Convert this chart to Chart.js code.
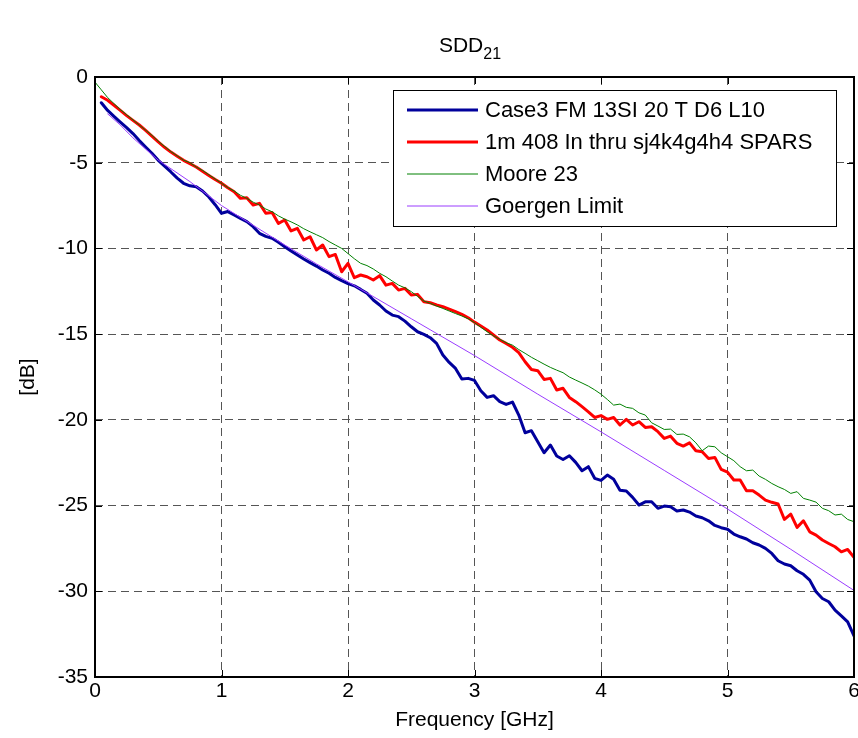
<!DOCTYPE html>
<html>
<head>
<meta charset="utf-8">
<script src="https://cdn.jsdelivr.net/npm/chart.js@4.4.0/dist/chart.umd.min.js"></script>
<style>
  body { margin: 0; background: #fff; }
  canvas { display: block; }
</style>
</head>
<body>
<canvas id="sddChart" width="858" height="738"></canvas>
<script>
// frequency grid [GHz] shared by the three measured traces
var freq = [
  0.00, 0.05, 0.10, 0.15, 0.20, 0.25, 0.30, 0.35, 0.40, 0.45,
  0.50, 0.55, 0.60, 0.65, 0.70, 0.75, 0.80, 0.85, 0.90, 0.95,
  1.00, 1.05, 1.10, 1.15, 1.20, 1.25, 1.30, 1.35, 1.40, 1.45,
  1.50, 1.55, 1.60, 1.65, 1.70, 1.75, 1.80, 1.85, 1.90, 1.95,
  2.00, 2.05, 2.10, 2.15, 2.20, 2.25, 2.30, 2.35, 2.40, 2.45,
  2.50, 2.55, 2.60, 2.65, 2.70, 2.75, 2.80, 2.85, 2.90, 2.95,
  3.00, 3.05, 3.10, 3.15, 3.20, 3.25, 3.30, 3.35, 3.40, 3.45,
  3.50, 3.55, 3.60, 3.65, 3.70, 3.75, 3.80, 3.85, 3.90, 3.95,
  4.00, 4.05, 4.10, 4.15, 4.20, 4.25, 4.30, 4.35, 4.40, 4.45,
  4.50, 4.55, 4.60, 4.65, 4.70, 4.75, 4.80, 4.85, 4.90, 4.95,
  5.00, 5.05, 5.10, 5.15, 5.20, 5.25, 5.30, 5.35, 5.40, 5.45,
  5.50, 5.55, 5.60, 5.65, 5.70, 5.75, 5.80, 5.85, 5.90, 5.95,
  6.00
];

// Case3 FM 13SI 20 T D6 L10 (blue)
var case3 = [
  null, -1.5, -1.95, -2.3, -2.63, -2.95, -3.3, -3.7, -4.08, -4.45,
  -4.86, -5.2, -5.54, -5.9, -6.2, -6.35, -6.4, -6.65, -7.0, -7.45,
  -7.95, -7.85, -8.05, -8.25, -8.44, -8.73, -9.12, -9.3, -9.41, -9.64,
  -9.9, -10.15, -10.39, -10.62, -10.83, -11.03, -11.26, -11.45, -11.69, -11.88,
  -12.05, -12.18, -12.39, -12.62, -13.01, -13.3, -13.65, -13.89, -13.98, -14.24,
  -14.57, -14.86, -15.01, -15.21, -15.54, -16.22, -16.65, -17.0, -17.62, -17.58,
  -17.7, -18.3, -18.69, -18.59, -18.94, -19.1, -18.96, -19.72, -20.75, -20.63,
  -21.28, -21.92, -21.47, -22.11, -22.31, -22.09, -22.48, -22.97, -22.73, -23.41,
  -23.53, -23.22, -23.47, -24.1, -24.15, -24.52, -24.97, -24.78, -24.78, -25.16,
  -25.03, -25.07, -25.32, -25.26, -25.38, -25.61, -25.71, -25.89, -26.16, -26.29,
  -26.38, -26.66, -26.82, -26.95, -27.17, -27.3, -27.5, -27.79, -28.22, -28.41,
  -28.51, -28.8, -29.01, -29.35, -30.03, -30.42, -30.61, -31.1, -31.43, -31.78,
  -32.6
];

// 1m 408 In thru sj4k4g4h4 SPARS (red)
var spars = [
  null, -1.15, -1.36, -1.65, -1.95, -2.25, -2.53, -2.8, -3.11, -3.45,
  -3.79, -4.1, -4.38, -4.62, -4.86, -5.05, -5.25, -5.5, -5.74, -5.98,
  -6.2, -6.46, -6.69, -7.08, -7.04, -7.47, -7.37, -7.95, -7.9, -8.54,
  -8.34, -8.98, -8.83, -9.51, -9.32, -10.09, -9.8, -10.48, -10.35, -11.36,
  -10.87, -11.71, -11.55, -11.65, -11.84, -11.59, -12.14, -12.04, -12.43, -12.33,
  -12.72, -12.68, -13.11, -13.17, -13.3, -13.4, -13.54, -13.69, -13.85, -14.05,
  -14.3, -14.53, -14.76, -15.05, -15.34, -15.54, -15.77, -16.08, -16.61, -17.06,
  -17.13, -17.64, -17.58, -18.26, -18.16, -18.69, -18.94, -19.23, -19.53, -19.86,
  -19.75, -19.97, -19.86, -20.3, -19.97, -20.3, -20.11, -20.44, -20.4, -20.69,
  -21.08, -20.95, -21.37, -21.53, -21.34, -21.8, -21.86, -22.25, -22.19, -22.89,
  -23.05, -23.51, -23.51, -24.14, -24.14, -24.39, -24.68, -24.81, -24.91, -25.81,
  -25.5, -26.27, -25.89, -26.53, -26.72, -27.01, -27.21, -27.4, -27.7, -27.56,
  -28.02
];

// Moore 23 (green)
var moore = [
  -0.3, -0.75, -1.2, -1.55, -1.9, -2.2, -2.5, -2.8, -3.1, -3.4,
  -3.75, -4.05, -4.35, -4.6, -4.85, -5.0, -5.25, -5.45, -5.7, -5.95,
  -6.2, -6.45, -6.65, -6.9, -7.08, -7.3, -7.47, -7.7, -7.86, -8.1,
  -8.29, -8.45, -8.63, -8.85, -9.03, -9.2, -9.37, -9.6, -9.8, -10.0,
  -10.3, -10.6, -10.87, -11.0, -11.2, -11.45, -11.65, -11.9, -12.14, -12.3,
  -12.52, -12.8, -13.07, -13.2, -13.36, -13.5, -13.65, -13.8, -13.94, -14.1,
  -14.33, -14.6, -14.86, -15.1, -15.3, -15.5, -15.64, -15.9, -16.12, -16.35,
  -16.55, -16.75, -16.94, -17.1, -17.25, -17.5, -17.68, -17.85, -18.03, -18.25,
  -18.5, -18.81, -19.14, -19.08, -19.27, -19.33, -19.59, -19.72, -20.17, -20.36,
  -20.56, -20.54, -20.85, -20.83, -20.99, -21.34, -21.8, -21.53, -21.57, -21.92,
  -22.15, -22.38, -22.73, -22.97, -22.93, -23.28, -23.47, -23.71, -23.9, -24.06,
  -24.29, -24.19, -24.58, -24.68, -24.8, -25.16, -25.3, -25.55, -25.5, -25.81,
  -25.94
];

// Goergen Limit (purple), sampled coarser since it is smooth
var goergenFreq = [0.1, 0.2, 0.3, 0.4, 0.5, 0.75, 1.0, 1.25, 1.5, 1.75, 2.0, 2.5, 3.0, 3.5, 4.0, 4.5, 5.0, 5.5, 6.0];
var goergen = [-2.15, -2.8, -3.55, -4.2, -4.85, -6.1, -7.5, -8.65, -9.8, -10.9, -11.95, -14.1, -16.25, -18.5, -20.7, -22.95, -25.2, -27.55, -29.95];

var seriesNames = ['Case3 FM 13SI 20 T D6 L10', '1m 408 In thru sj4k4g4h4 SPARS', 'Moore 23', 'Goergen Limit'];
var seriesColors = ['#00009c', '#ff0000', '#008000', '#9a3cff'];
var seriesWidths = [3, 3, 1, 1];

var FONT = '"Liberation Sans", Arial, Helvetica, sans-serif';

function toPoints(xs, ys) {
    return xs.map(function (x, i) { return { x: x, y: ys[i] }; });
}

// MATLAB-ish title with subscript
var titlePlugin = {
    id: 'sddTitle',
    afterDraw: function (chart) {
        var ctx = chart.ctx;
        ctx.save();
        ctx.fillStyle = '#000';
        ctx.textBaseline = 'alphabetic';
        ctx.font = '21px ' + FONT;
        var w1 = ctx.measureText('SDD').width;
        ctx.font = '16px ' + FONT;
        var w2 = ctx.measureText('21').width;
        var x = 470 - (w1 + w2) / 2;
        ctx.font = '21px ' + FONT;
        ctx.fillText('SDD', x, 52);
        ctx.font = '16px ' + FONT;
        ctx.fillText('21', x + w1, 59);
        ctx.restore();
    }
};

// box around the axes with inward ticks, then the legend box
var frameLegendPlugin = {
    id: 'frameLegend',
    afterDatasetsDraw: function (chart) {
        var ctx = chart.ctx;
        var a = chart.chartArea;
        var xs = chart.scales.x, ys = chart.scales.y;
        ctx.save();
        ctx.strokeStyle = '#000';
        ctx.lineWidth = 2;
        ctx.setLineDash([]);
        ctx.strokeRect(a.left, a.top, a.right - a.left, a.bottom - a.top);
        ctx.lineWidth = 1;
        ctx.beginPath();
        xs.ticks.forEach(function (t) {
            var px = Math.round(xs.getPixelForValue(t.value)) + 0.5;
            ctx.moveTo(px, a.top); ctx.lineTo(px, a.top + 7);
            ctx.moveTo(px, a.bottom); ctx.lineTo(px, a.bottom - 7);
        });
        ys.ticks.forEach(function (t) {
            var py = Math.round(ys.getPixelForValue(t.value)) + 0.5;
            ctx.moveTo(a.left, py); ctx.lineTo(a.left + 7, py);
            ctx.moveTo(a.right, py); ctx.lineTo(a.right - 7, py);
        });
        ctx.stroke();

        // legend
        var bx = 393.5, by = 90.5, bw = 443, bh = 136;
        ctx.fillStyle = '#fff';
        ctx.fillRect(bx, by, bw, bh);
        ctx.strokeStyle = '#000';
        ctx.lineWidth = 1;
        ctx.strokeRect(bx, by, bw, bh);
        ctx.font = '22px ' + FONT;
        ctx.textBaseline = 'middle';
        ctx.textAlign = 'left';
        chart.data.datasets.forEach(function (ds, i) {
            var rowY = 110 + i * 32;
            ctx.strokeStyle = ds.borderColor;
            ctx.lineWidth = ds.borderWidth;
            ctx.beginPath();
            ctx.moveTo(407, rowY);
            ctx.lineTo(478, rowY);
            ctx.stroke();
            ctx.fillStyle = '#000';
            ctx.fillText(ds.label, 485, rowY + 1);
        });
        ctx.restore();
    }
};

var ctx = document.getElementById('sddChart').getContext('2d');
var chart = new Chart(ctx, {
    type: 'line',
    data: {
        datasets: [
            { label: seriesNames[0], data: toPoints(freq, case3), borderColor: seriesColors[0], borderWidth: seriesWidths[0], order: 4 },
            { label: seriesNames[1], data: toPoints(freq, spars), borderColor: seriesColors[1], borderWidth: seriesWidths[1], order: 3 },
            { label: seriesNames[2], data: toPoints(freq, moore), borderColor: seriesColors[2], borderWidth: seriesWidths[2], order: 2 },
            { label: seriesNames[3], data: toPoints(goergenFreq, goergen), borderColor: seriesColors[3], borderWidth: seriesWidths[3], order: 1 }
        ]
    },
    options: {
        responsive: false,
        animation: false,
        layout: { padding: { top: 77, right: 4, bottom: 0, left: 0 } },
        elements: {
            point: { radius: 0 },
            line: { tension: 0, fill: false, borderJoinStyle: 'round', borderCapStyle: 'round' }
        },
        plugins: {
            legend: { display: false },
            tooltip: { enabled: false },
            title: { display: false }
        },
        scales: {
            x: {
                type: 'linear',
                min: 0,
                max: 6,
                afterFit: function (scale) {
                    scale.height = 61;
                    scale.paddingLeft = 0;
                    scale.paddingRight = 0;
                },
                ticks: { stepSize: 1, color: '#000', padding: 2, maxRotation: 0, font: { family: FONT, size: 21 } },
                grid: { color: '#555', lineWidth: 1, drawTicks: false },
                border: { display: false, dash: [8, 5] },
                title: { display: true, text: 'Frequency [GHz]', color: '#000', padding: { bottom: 5, top: 0 }, font: { family: FONT, size: 21 } }
            },
            y: {
                min: -35,
                max: 0,
                afterFit: function (scale) {
                    scale.width = 95;
                    scale.paddingTop = 0;
                    scale.paddingBottom = 0;
                },
                ticks: { stepSize: 5, color: '#000', padding: 7, font: { family: FONT, size: 21 } },
                grid: { color: '#555', lineWidth: 1, drawTicks: false },
                border: { display: false, dash: [8, 5] },
                title: { display: true, text: '[dB]', color: '#000', padding: { top: 16, bottom: 0 }, font: { family: FONT, size: 21 } }
            }
        }
    },
    plugins: [titlePlugin, frameLegendPlugin]
});
</script>
</body>
</html>
